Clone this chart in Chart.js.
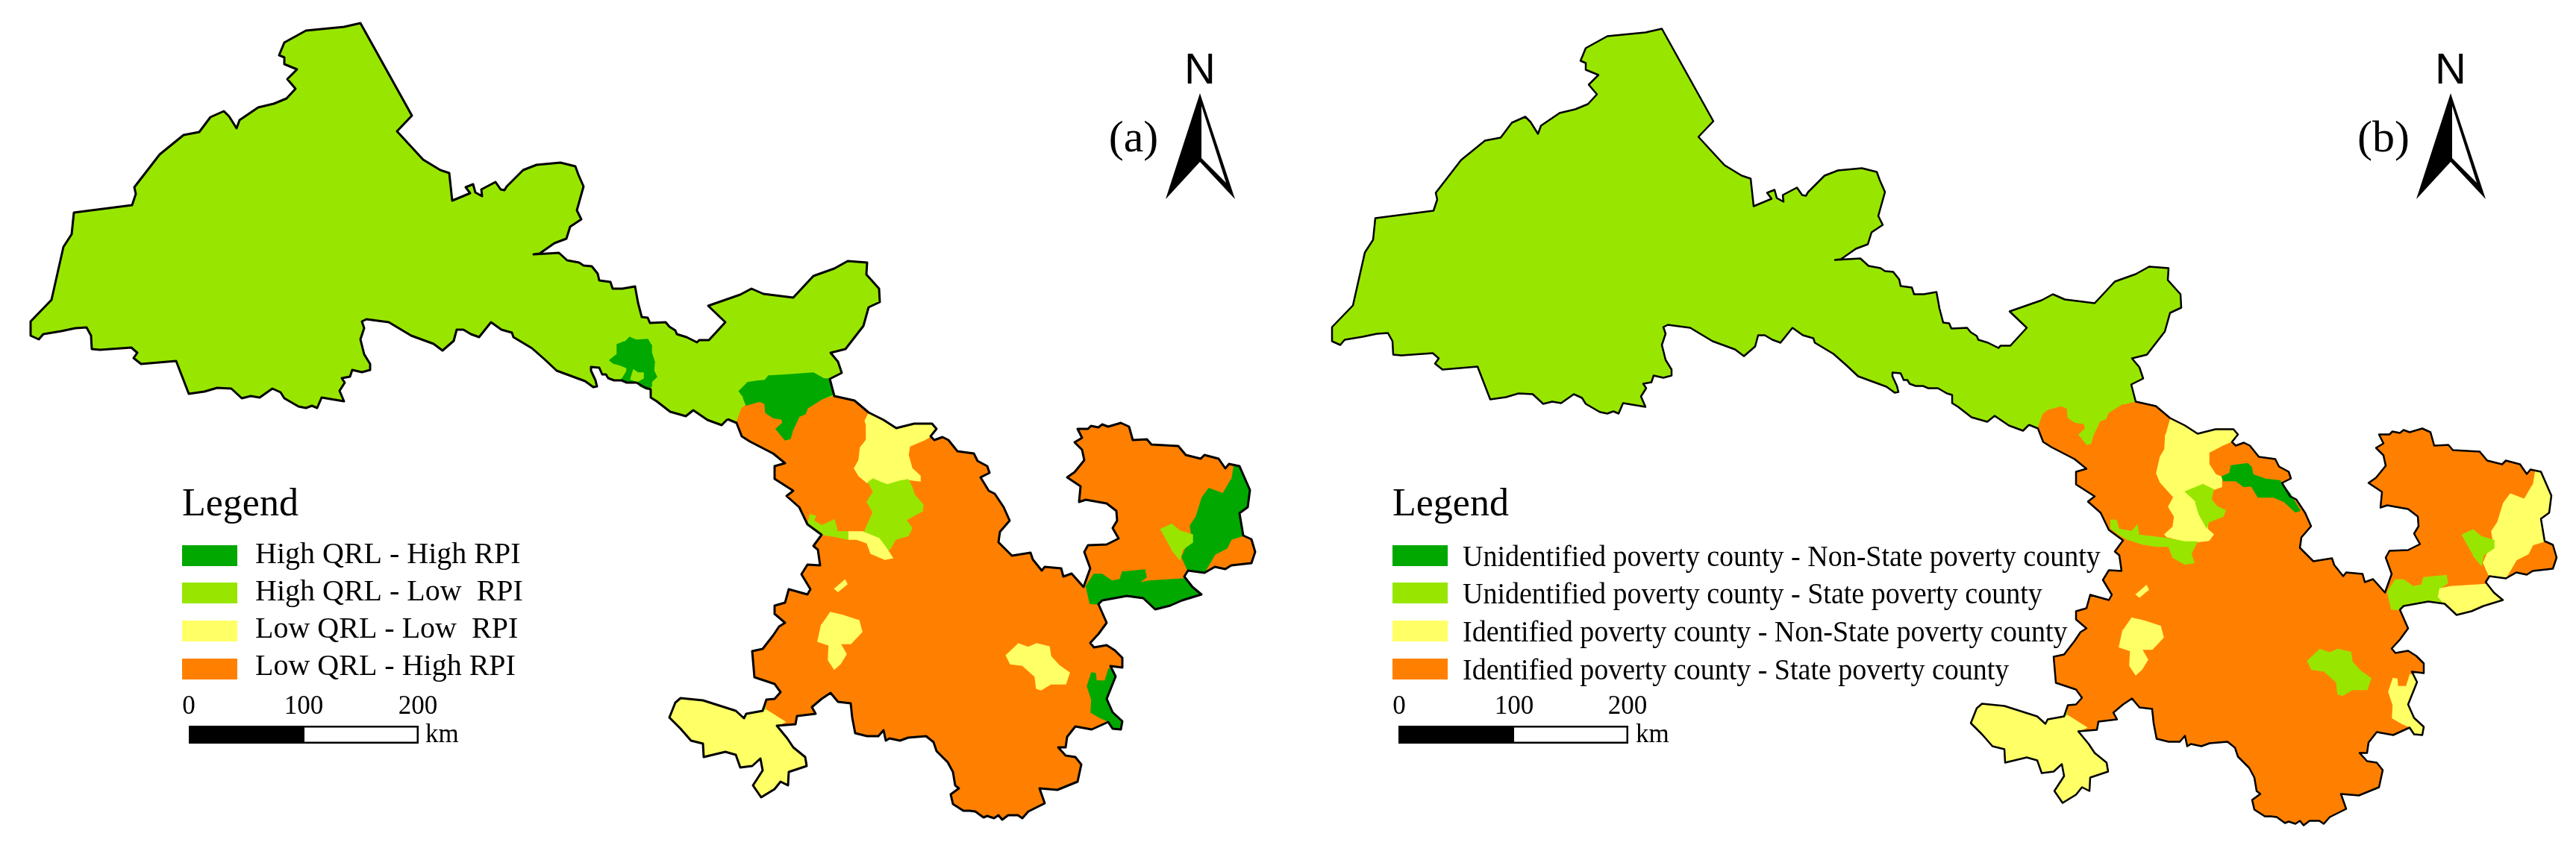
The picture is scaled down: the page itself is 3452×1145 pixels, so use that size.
<!DOCTYPE html>
<html>
<head>
<meta charset="utf-8">
<title>Gansu county maps</title>
<script src="https://cdn.jsdelivr.net/npm/chart.js@4/dist/chart.umd.min.js"></script>
<style>
  html, body { margin: 0; padding: 0; background: #fff; }
  #wrap { position: relative; width: 3452px; height: 1145px; overflow: hidden; }
  canvas { position: absolute; top: 0; }
</style>
</head>
<body>
<div id="wrap">
  <canvas id="mapA" width="1726" height="1145" style="left:0"></canvas>
  <canvas id="mapB" width="1726" height="1145" style="left:1726px"></canvas>
</div>
<script>
// boundary of the province, cut in four pieces so the southern counties can reuse them
const boundaryNorth = [[975,562],[967,570],[948,563],[929,550],[919,558],[898,552],[880,538],[872,533],[872,522],[865,520],[853,513],[840,513],[833,510],[823,510],[815,507],[812,502],[807,502],[803,493],[792,492],[792,497],[798,510],[800,518],[795,519],[784,511],[746,497],[730,482],[713,467],[688,452],[686,446],[672,442],[658,432],[642,452],[631,448],[621,442],[612,442],[608,457],[593,470],[581,461],[551,450],[521,432],[491,428],[485,431],[488,440],[483,455],[488,475],[496,488],[496,496],[485,499],[472,496],[469,505],[458,507],[462,513],[455,524],[461,538],[431,533],[425,547],[418,544],[410,547],[400,545],[381,534],[376,526],[365,521],[348,533],[336,531],[324,534],[310,521],[291,520],[274,525],[253,528],[236,484],[189,488],[179,480],[184,473],[176,466],[134,469],[123,468],[122,450],[116,439],[101,440],[82,444],[58,448],[52,455],[41,450],[41,431],[69,402],[85,331],[96,314],[99,285],[177,275],[182,260],[180,251],[214,207],[246,181],[267,177],[282,157],[300,149],[307,156],[317,172],[321,161],[346,144],[367,139],[384,132],[396,119],[385,106],[398,93],[381,86],[381,77],[374,74],[381,57],[410,41],[461,36],[483,31],[552,155],[532,176],[567,214],[590,228],[602,232],[606,269],[630,259],[624,251],[634,247],[637,258],[646,263],[645,254],[664,244],[671,254],[676,255],[679,250],[701,228],[719,221],[751,218],[771,223],[775,234],[782,250],[773,282],[779,294],[764,304],[759,320],[743,326],[723,340],[715,341],[749,339],[760,349],[776,352],[782,356],[793,357],[801,367],[803,376],[818,378],[821,387],[834,387],[851,384],[855,406],[860,425],[868,426],[871,433],[892,432],[897,438],[905,443],[907,448],[920,452],[934,459],[937,456],[950,456],[972,432],[949,410],[992,395],[1007,387],[1023,394],[1063,399],[1090,370],[1118,360],[1136,350],[1162,352],[1161,368],[1178,387],[1179,405],[1164,412],[1157,437],[1133,468],[1113,473],[1123,485],[1128,500],[1112,508]];
const boundaryEast = [[1118,531],[1145,537],[1164,553],[1184,563],[1201,574],[1225,568],[1249,568],[1255,575],[1247,585],[1252,590],[1263,586],[1271,590],[1283,605],[1305,608],[1310,618],[1323,625],[1326,634],[1314,640],[1325,658],[1333,662],[1345,680],[1353,698],[1340,713],[1338,727],[1356,745],[1381,741],[1384,750],[1396,765],[1400,760],[1422,762],[1425,773],[1436,769],[1452,787],[1461,762],[1453,740],[1458,731],[1483,730],[1499,722],[1491,708],[1497,698],[1496,685],[1483,675],[1455,670],[1446,673],[1448,652],[1430,640],[1440,633],[1453,617],[1450,603],[1440,593],[1450,587],[1444,575],[1458,575],[1462,571],[1472,573],[1477,569],[1485,572],[1502,567],[1513,572],[1518,590],[1537,589],[1543,596],[1579,598],[1589,610],[1609,615],[1614,610],[1633,615],[1642,628],[1647,622],[1661,625],[1675,657],[1672,680],[1661,688],[1666,718],[1677,723],[1682,740],[1677,755],[1650,758],[1642,763],[1628,760],[1614,768],[1592,765],[1587,773],[1598,787],[1610,797],[1584,805],[1568,812],[1548,817],[1532,802],[1510,799],[1477,805],[1472,810],[1483,835],[1472,850],[1461,862],[1466,868],[1483,865],[1494,872],[1504,882],[1504,895],[1488,893],[1495,907],[1483,937],[1491,955],[1504,967],[1502,978],[1491,977],[1485,968],[1463,978],[1441,974],[1430,988],[1428,1002],[1418,1002],[1428,1013],[1441,1015],[1449,1025],[1444,1048],[1417,1059],[1393,1057],[1400,1077],[1378,1088],[1370,1097],[1364,1093],[1356,1093],[1351,1093],[1343,1099],[1338,1093],[1332,1097],[1323,1094],[1318,1096],[1307,1088],[1299,1087],[1291,1087],[1277,1078],[1274,1065],[1285,1057],[1280,1053],[1277,1035],[1270,1022],[1255,1007],[1251,995],[1241,987],[1217,989],[1206,993],[1192,990],[1187,993],[1184,979],[1177,987],[1162,987],[1146,983],[1142,962],[1140,943],[1123,941],[1113,929],[1101,937],[1088,948],[1093,957],[1068,960],[1066,971],[1041,973]];
const boundaryGannan = [[1055,990],[1063,1002],[1079,1015],[1081,1027],[1057,1035],[1056,1053],[1046,1048],[1038,1058],[1020,1069],[1009,1053],[1022,1033],[1019,1017],[1008,1027],[992,1029],[986,1012],[972,1008],[943,1015],[942,997],[926,993],[912,977],[897,962],[905,942],[912,936],[942,939],[986,953],[997,963],[1000,957],[1022,953]];
const boundaryWest = [[1027,938],[1038,937],[1046,928],[1038,917],[1011,908],[1008,873],[1022,870],[1036,852],[1044,840],[1052,835],[1038,823],[1038,812],[1052,808],[1057,790],[1082,797],[1086,790],[1074,770],[1082,757],[1099,758],[1096,737],[1090,732],[1101,717],[1082,703],[1071,680],[1054,665],[1063,658],[1038,642],[1038,625],[1052,621],[1036,608],[1005,592],[994,585],[987,567]];

// inner lines and counties, same map units as the boundary
const orangeTopEdge = [[994,548],[1000,543],[1018,538],[1025,541],[1026,553],[1036,560],[1048,562],[1049,567],[1040,575],[1052,590],[1059,588],[1062,577],[1071,558],[1079,555],[1082,547],[1101,535]];
const gannanEdge = [[1027,952],[1052,968]];
const wuweiCounty = [[990,525],[1002,513],[1014,511],[1025,510],[1030,504],[1049,503],[1090,500],[1104,508],[1111,508],[1118,528],[1101,535],[1082,547],[1079,555],[1071,558],[1062,577],[1059,588],[1052,590],[1040,575],[1049,567],[1048,562],[1036,560],[1026,553],[1025,541],[1018,538],[1000,543],[996,533]];
const oasisCounty = [[843,452],[852,456],[868,455],[872,462],[873,473],[877,485],[876,497],[880,505],[873,512],[873,518],[867,522],[858,518],[853,512],[843,512],[833,509],[840,498],[840,493],[830,489],[822,487],[817,483],[827,475],[827,462],[837,458]];
const oasisNotch = [[845,509],[849,496],[855,500],[862,500],[862,507],[853,512]];
const lanzhouYellowA = [[1163,555],[1184,563],[1201,574],[1225,568],[1249,568],[1255,575],[1247,585],[1238,590],[1219,598],[1217,610],[1222,628],[1233,638],[1233,645],[1217,643],[1206,645],[1189,650],[1181,647],[1170,642],[1162,647],[1151,638],[1145,628],[1151,617],[1153,600],[1161,590],[1161,570],[1159,563]];
const lanzhouLimeA = [[1163,647],[1170,642],[1181,647],[1189,650],[1206,645],[1217,643],[1222,653],[1225,663],[1237,677],[1236,685],[1214,697],[1222,708],[1217,718],[1200,723],[1192,737],[1167,717],[1159,712],[1170,687],[1162,673],[1170,660]];
const stripLimeA = [[1085,690],[1093,692],[1090,698],[1101,705],[1118,697],[1122,713],[1137,713],[1137,723],[1118,719],[1104,717],[1093,708],[1082,702]];
const stripYellowA = [[1137,713],[1156,713],[1178,722],[1189,737],[1196,748],[1186,750],[1167,742],[1162,728],[1148,723],[1137,723]];
const smallIsland = [[1132,777],[1135,783],[1123,793],[1118,789]];
const westIsland = [[1112,821],[1129,825],[1151,832],[1155,847],[1140,863],[1126,863],[1134,877],[1126,890],[1118,897],[1110,885],[1111,865],[1096,860],[1101,837]];
const centralIsland = [[1364,863],[1378,868],[1389,863],[1406,867],[1408,880],[1419,892],[1433,902],[1428,917],[1408,917],[1395,925],[1389,923],[1387,907],[1370,892],[1354,890],[1348,878]];
const southEastCounty = [[1485,897],[1491,897],[1495,907],[1483,937],[1491,955],[1504,967],[1502,978],[1491,977],[1485,967],[1474,962],[1462,955],[1463,938],[1457,920],[1463,902],[1468,903],[1469,913],[1480,913]];
const eastCounty = [[1653,625],[1661,625],[1675,657],[1672,680],[1661,688],[1666,718],[1650,723],[1644,735],[1628,743],[1614,767],[1592,765],[1584,747],[1590,733],[1598,723],[1595,705],[1603,693],[1611,667],[1620,655],[1639,662],[1650,643]];
const eastInnerCounty = [[1555,710],[1570,703],[1581,712],[1598,717],[1598,727],[1584,737],[1581,750],[1570,737]];
const neckLeft = [[1455,787],[1466,770],[1477,770],[1490,779],[1501,777],[1504,767],[1534,764],[1536,774],[1525,782],[1523,792],[1532,802],[1510,799],[1477,805],[1472,810],[1460,809]];
const neckRight = [[1525,782],[1540,779],[1587,776],[1598,787],[1610,797],[1584,805],[1568,812],[1548,817],[1532,802],[1523,792]];
const lanzhouYellowB = [[1164,554],[1184,563],[1201,574],[1225,568],[1249,568],[1255,575],[1247,584],[1235,589],[1216,599],[1216,615],[1225,629],[1233,632],[1233,645],[1222,649],[1208,642],[1184,652],[1198,665],[1203,682],[1214,692],[1214,702],[1222,709],[1216,717],[1200,719],[1187,719],[1160,712],[1157,709],[1168,699],[1170,685],[1162,672],[1169,659],[1151,639],[1146,627],[1151,605],[1157,595],[1158,575]];
const lanzhouLimeB = [[1184,652],[1208,642],[1222,649],[1219,662],[1227,672],[1238,677],[1235,685],[1216,692],[1213,700],[1203,682],[1198,665]];
const stripLimeB = [[1084,690],[1092,690],[1095,702],[1113,705],[1120,697],[1122,710],[1157,714],[1184,719],[1200,719],[1192,735],[1196,747],[1184,749],[1168,740],[1162,725],[1146,725],[1127,722],[1106,715],[1095,709],[1084,700]];
const ridgeGreenB = [[1233,632],[1244,627],[1246,617],[1268,614],[1273,619],[1275,629],[1292,635],[1311,637],[1325,655],[1338,677],[1332,679],[1317,665],[1303,659],[1282,659],[1273,644],[1263,645],[1252,637],[1235,637]];

const legendTitle = "Legend";
const legendLabelsA = ["High QRL - High RPI", "High QRL - Low  RPI", "Low QRL - Low  RPI", "Low QRL - High RPI"];
const legendLabelsB = ["Unidentified poverty county - Non-State poverty county", "Unidentified poverty county - State poverty county", "Identified poverty county - Non-State poverty county", "Identified poverty county - State poverty county"];
const scaleTicks = ["0", "100", "200"];
const scaleUnit = "km";

const DARK = "#00a800", LIME = "#98e600", YELLOW = "#ffff66", ORANGE = "#ff8000";
const legendColors = [DARK, LIME, YELLOW, ORANGE];

function poly(points, color) {
  return {
    data: points.map(p => ({x: p[0], y: p[1]})),
    showLine: true, fill: 'shape', tension: 0,
    backgroundColor: color, borderColor: color, borderWidth: 1.5,
    pointRadius: 0, pointHoverRadius: 0
  };
}
function closedOutline(width) {
  const pts = boundaryNorth.concat(boundaryEast, boundaryGannan, boundaryWest, [boundaryNorth[0]]);
  return {
    data: pts.map(p => ({x: p[0], y: p[1]})),
    showLine: true, fill: false, tension: 0,
    borderColor: "#000", borderWidth: width, borderJoinStyle: 'round',
    pointRadius: 0, pointHoverRadius: 0
  };
}

const wholeProvince = boundaryNorth.concat(boundaryEast, boundaryGannan, boundaryWest);
const orangeArea = boundaryEast.concat(gannanEdge.slice().reverse(), boundaryWest, orangeTopEdge);
const gannanArea = boundaryGannan.concat(gannanEdge, [boundaryEast[boundaryEast.length - 1]]);

// bottom layer first, reversed later because chart.js paints dataset 0 last
const layersA = [
  poly(wholeProvince, LIME), poly(orangeArea, ORANGE), poly(gannanArea, YELLOW),
  poly(wuweiCounty, DARK), poly(oasisCounty, DARK), poly(oasisNotch, LIME),
  poly(lanzhouYellowA, YELLOW), poly(lanzhouLimeA, LIME), poly(stripLimeA, LIME), poly(stripYellowA, YELLOW),
  poly(smallIsland, YELLOW), poly(westIsland, YELLOW), poly(centralIsland, YELLOW),
  poly(southEastCounty, DARK), poly(eastCounty, DARK), poly(eastInnerCounty, LIME),
  poly(neckLeft, DARK), poly(neckRight, DARK),
  closedOutline(3)
];
const layersB = [
  poly(wholeProvince, LIME), poly(orangeArea, ORANGE), poly(gannanArea, YELLOW),
  poly(lanzhouYellowB, YELLOW), poly(lanzhouLimeB, LIME), poly(stripLimeB, LIME), poly(ridgeGreenB, DARK),
  poly(smallIsland, YELLOW), poly(westIsland, YELLOW), poly(centralIsland, LIME),
  poly(southEastCounty, YELLOW), poly(eastCounty, YELLOW), poly(eastInnerCounty, LIME),
  poly(neckLeft, LIME), poly(neckRight, YELLOW),
  closedOutline(2.5)
];

// legend, scale bar and north arrow, drawn in page pixels of each panel
const furniture = {
  id: 'furniture',
  afterDraw(chart, args, o) {
    const c = chart.ctx;
    c.save();
    c.translate(-o.left, 0);
    c.fillStyle = "#000";
    c.textBaseline = "alphabetic";

    c.font = '52px "Liberation Serif"';
    c.fillText(legendTitle, o.legendX, 691);

    o.labels.forEach((txt, i) => {
      c.fillStyle = legendColors[i];
      c.fillRect(o.legendX, o.swatchY[i], 74, 28);
      c.fillStyle = "#000";
      c.save();
      c.translate(o.labelX, o.labelY[i]);
      c.scale(o.squeeze, 1);
      c.font = '40px "Liberation Serif"';
      c.fillText(txt, 0, 0);
      c.restore();
    });

    c.font = '35px "Liberation Serif"';
    c.textAlign = "center";
    scaleTicks.forEach((t, i) => c.fillText(t, o.tickX[i], 957));
    c.textAlign = "left";
    c.fillText(scaleUnit, o.unitX, 995);

    c.fillRect(o.barX, 973, o.barW, 24);
    c.fillStyle = "#fff";
    c.fillRect(o.barX + o.barW / 2 + 1, 975.5, o.barW / 2 - 3.5, 19);

    const a = o.arrowX;
    c.fillStyle = "#000";
    c.beginPath();
    c.moveTo(a, 125); c.lineTo(a + 47, 267); c.lineTo(a, 217); c.lineTo(a - 46, 267);
    c.closePath(); c.fill();
    c.fillStyle = "#fff";
    c.beginPath();
    c.moveTo(a + 2, 142); c.lineTo(a + 35, 245); c.lineTo(a + 2, 212);
    c.closePath(); c.fill();

    c.fillStyle = "#000";
    c.font = '58px "Liberation Sans"';
    c.textAlign = "center";
    c.fillText("N", a, 112);
    c.font = '60px "Liberation Serif"';
    c.fillText(o.tag, o.tagX, 203);
    c.restore();
  }
};

function makeMap(id, layers, xMin, xMax, yMin, yMax, opts) {
  return new Chart(document.getElementById(id).getContext('2d'), {
    type: 'scatter',
    data: {datasets: layers.slice().reverse()},
    options: {
      responsive: false,
      animation: false,
      events: [],
      layout: {padding: 0},
      scales: {
        x: {type: 'linear', display: false, min: xMin, max: xMax},
        y: {type: 'linear', display: false, reverse: true, min: yMin, max: yMax}
      },
      plugins: {legend: {display: false}, tooltip: {enabled: false}, furniture: opts}
    },
    plugins: [furniture]
  });
}

makeMap('mapA', layersA, 0, 1726, 0, 1145, {
  left: 0, tag: "(a)", tagX: 1519, arrowX: 1608,
  labels: legendLabelsA, legendX: 244, labelX: 342, squeeze: 1,
  swatchY: [731, 781, 832, 883], labelY: [755, 805, 855, 905],
  tickX: [253, 407, 560], unitX: 570, barX: 253, barW: 308
});
makeMap('mapB', layersB, -18, 1708, -7.5, 1137.5, {
  left: 1726, tag: "(b)", tagX: 3194, arrowX: 3284,
  labels: legendLabelsB, legendX: 1866, labelX: 1960, squeeze: 0.95,
  swatchY: [731, 781, 832, 883], labelY: [759, 809, 860, 911],
  tickX: [1875, 2029, 2181], unitX: 2192, barX: 1874, barW: 308
});
</script>
</body>
</html>
